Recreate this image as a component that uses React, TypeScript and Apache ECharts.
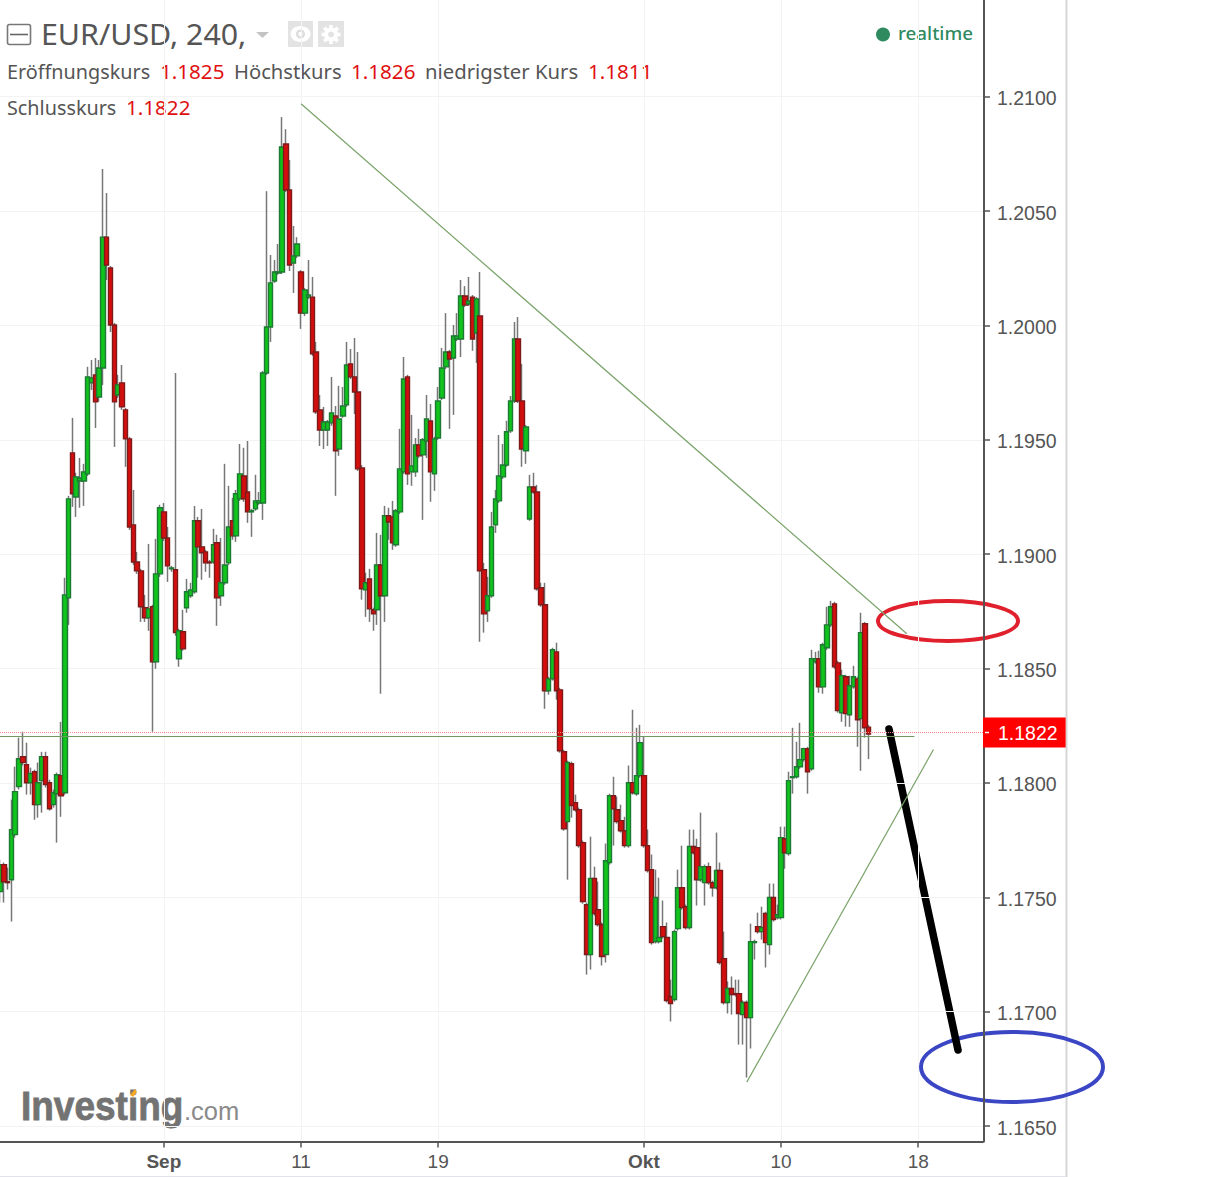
import React, { useEffect, useRef } from "react";
import * as echarts from "echarts";

const xLabels: Record<number, string> = { 43: "Sep", 79: "11", 115: "19", 169: "Okt", 205: "10", 241: "18" };
const slotCount = 259;
const categories = Array.from({ length: slotCount }, (_, i) => String(i));
const priceTicks = [1.165, 1.17, 1.175, 1.18, 1.185, 1.19, 1.195, 1.2, 1.205, 1.21];
const lastPrice = 1.1822;
const readingOffset = -0.00006;

const direction =
  "UDDUUUDDUD" + "UUDDUUDUUD" + "UUUUUDUUDD" + "DUDDDDDDDU" + "DUUDDUDUDU" + "UUDDDDUDUU" + "UDUUDDUUUU" + "UUUUUDDUUD" +
  "UUDDDUUUDU" + "UUDDDDUDDU" + "DUDDUUUDUU" + "DUUDUUUUDU" + "UUDUDUDDUU" + "UUUUUUDDUU" + "DDDDUUDDDU" + "DDDDDUDDDU" +
  "UDDDDUDUUD" + "DDUUDDDUUD" + "DUDDUUDDUD" + "DUDDDUDUUD" + "UDUDUUDUUU" + "UUDUUDUUUD" + "DUDUUDUDD";

const bodyTop = [
  1.17649,1.17649,1.17574,1.17802,1.17968,1.18112,1.18121,1.18086,1.18047,1.18055,
  1.18007,1.18121,1.18121,1.18007,1.17963,1.18042,1.18038,1.18828,1.19248,1.19449,
  1.19344,1.19339,1.19366,1.19781,1.19777,1.19790,1.19820,1.20392,1.20392,1.20257,
  1.20008,1.19746,1.19755,1.19637,1.19510,1.19134,1.18972,1.18933,1.18772,1.18767,
  1.18776,1.18920,1.19209,1.19191,1.19077,1.18946,1.18938,1.18671,1.18667,1.18842,
  1.18850,1.19152,1.19152,1.19038,1.19016,1.18972,1.19047,1.19056,1.18881,1.18959,
  1.19125,1.19152,1.19270,1.19357,1.19348,1.19278,1.19196,1.19239,1.19239,1.19798,
  1.19999,1.20192,1.20240,1.20240,1.20786,1.20799,1.20598,1.20310,1.20362,1.20240,
  1.20161,1.20139,1.20130,1.19890,1.19637,1.19584,1.19584,1.19624,1.19610,1.19597,
  1.19654,1.19833,1.19838,1.19781,1.19715,1.19383,1.18881,1.18898,1.18763,1.18959,
  1.18959,1.19174,1.19174,1.19169,1.19196,1.19379,1.19772,1.19781,1.19392,1.19484,
  1.19484,1.19506,1.19597,1.19588,1.19510,1.19676,1.19820,1.19890,1.19890,1.19960,
  1.19960,1.20135,1.20135,1.20113,1.20130,1.20122,1.20047,1.18938,1.18824,1.19125,
  1.19248,1.19348,1.19396,1.19541,1.19676,1.19947,1.19947,1.19676,1.19562,1.19300,
  1.19300,1.19278,1.18859,1.18785,1.18461,1.18588,1.18579,1.18413,1.18142,1.18095,
  1.18090,1.17920,1.17889,1.17745,1.17474,1.17588,1.17588,1.17452,1.17387,1.17666,
  1.17950,1.17950,1.17889,1.17841,1.17797,1.18007,1.18007,1.18038,1.18182,1.18038,
  1.17732,1.17627,1.17505,1.17330,1.17378,1.17330,1.17072,1.17356,1.17548,1.17548,
  1.17465,1.17728,1.17728,1.17723,1.17640,1.17640,1.17640,1.17570,1.17623,1.17623,
  1.17238,1.17107,1.17107,1.17085,1.17085,1.17046,1.17046,1.17312,1.17312,1.17378,
  1.17374,1.17435,1.17505,1.17505,1.17430,1.17767,1.17762,1.18016,1.18033,1.18077,
  1.18108,1.18156,1.18156,1.18549,1.18549,1.18549,1.18610,1.18697,1.18776,1.18789,
  1.18531,1.18475,1.18470,1.18431,1.18470,1.18461,1.18663,1.18702,1.18250,
];

const bodyBottom = [
  1.17531,1.17574,1.17570,1.17583,1.17780,1.17990,1.18095,1.18007,1.18007,1.17911,
  1.17911,1.18016,1.17999,1.17893,1.17911,1.17959,1.17950,1.17963,1.18815,1.19270,
  1.19256,1.19326,1.19326,1.19357,1.19755,1.19672,1.19693,1.19820,1.20270,1.20008,
  1.19672,1.19702,1.19650,1.19510,1.19125,1.18972,1.18933,1.18776,1.18728,1.18728,
  1.18536,1.18536,1.18920,1.19077,1.18955,1.18942,1.18663,1.18549,1.18592,1.18772,
  1.18824,1.18842,1.19038,1.19012,1.18968,1.18968,1.18972,1.18815,1.18824,1.18881,
  1.18968,1.19086,1.19086,1.19248,1.19248,1.19191,1.19191,1.19204,1.19230,1.19230,
  1.19798,1.19999,1.20200,1.20235,1.20240,1.20598,1.20270,1.20279,1.20310,1.20060,
  1.20060,1.20130,1.19882,1.19628,1.19549,1.19549,1.19549,1.19580,1.19458,1.19466,
  1.19610,1.19659,1.19781,1.19715,1.19379,1.18855,1.18850,1.18767,1.18745,1.18763,
  1.18824,1.18824,1.19147,1.19056,1.19047,1.19191,1.19366,1.19357,1.19366,1.19366,
  1.19436,1.19440,1.19501,1.19366,1.19357,1.19514,1.19689,1.19825,1.19859,1.19864,
  1.19947,1.19947,1.20095,1.20100,1.19947,1.19973,1.18933,1.18745,1.18759,1.18824,
  1.19134,1.19239,1.19344,1.19396,1.19545,1.19676,1.19676,1.19466,1.19458,1.19160,
  1.19278,1.18855,1.18785,1.18409,1.18409,1.18461,1.18409,1.18147,1.17806,1.17837,
  1.17907,1.17889,1.17732,1.17487,1.17256,1.17256,1.17435,1.17387,1.17247,1.17256,
  1.17658,1.17893,1.17837,1.17797,1.17732,1.17732,1.17963,1.17959,1.18038,1.17732,
  1.17623,1.17308,1.17312,1.17312,1.17334,1.17055,1.17042,1.17059,1.17369,1.17461,
  1.17374,1.17374,1.17701,1.17583,1.17583,1.17570,1.17570,1.17548,1.17548,1.17221,
  1.17046,1.17046,1.17081,1.17081,1.16998,1.16993,1.16980,1.16980,1.17308,1.17356,
  1.17356,1.17308,1.17299,1.17409,1.17417,1.17417,1.17701,1.17697,1.18029,1.18033,
  1.18077,1.18108,1.18055,1.18068,1.18536,1.18426,1.18426,1.18597,1.18697,1.18514,
  1.18322,1.18313,1.18309,1.18304,1.18426,1.18282,1.18287,1.18247,1.18220,
];

const highs = [
  1.17671,1.17658,1.17636,1.17933,1.18077,1.18204,1.18230,1.18182,1.18073,1.18064,
  1.18095,1.18142,1.18142,1.18020,1.17977,1.18051,1.18273,1.18903,1.19261,1.19602,
  1.19362,1.19427,1.19401,1.19825,1.19855,1.19864,1.19855,1.20690,1.20585,1.20266,
  1.20017,1.19790,1.19833,1.19645,1.19519,1.19287,1.19016,1.18942,1.18828,1.19051,
  1.18785,1.19073,1.19222,1.19230,1.19125,1.18955,1.19798,1.18680,1.18763,1.18898,
  1.18881,1.19217,1.19169,1.19204,1.19025,1.18981,1.19117,1.19091,1.19077,1.19401,
  1.19305,1.19252,1.19287,1.19488,1.19471,1.19501,1.19204,1.19353,1.19278,1.19807,
  1.20593,1.20314,1.20292,1.20362,1.20917,1.20864,1.20729,1.20441,1.20392,1.20248,
  1.20170,1.20292,1.20218,1.19934,1.19702,1.19650,1.19593,1.19781,1.19654,1.19742,
  1.19737,1.19934,1.19903,1.19951,1.19890,1.19396,1.18925,1.18942,1.18772,1.19099,
  1.19091,1.19217,1.19209,1.19239,1.19204,1.19554,1.19868,1.19790,1.19615,1.19514,
  1.19554,1.19514,1.19702,1.19663,1.19519,1.19737,1.19908,1.20060,1.19899,1.20008,
  1.20060,1.20205,1.20178,1.20218,1.20139,1.20130,1.20240,1.18968,1.18907,1.19191,
  1.19287,1.19527,1.19488,1.19589,1.19698,1.20021,1.20043,1.19838,1.19571,1.19353,
  1.19362,1.19309,1.18881,1.18881,1.18470,1.18597,1.18619,1.18422,1.18151,1.18103,
  1.18099,1.17955,1.17898,1.17754,1.17483,1.17771,1.17640,1.17574,1.17396,1.17741,
  1.17959,1.18033,1.17946,1.17911,1.17858,1.18082,1.18326,1.18247,1.18260,1.18208,
  1.17802,1.17693,1.17627,1.17592,1.17492,1.17396,1.17146,1.17365,1.17627,1.17732,
  1.17474,1.17802,1.17802,1.17762,1.17876,1.17649,1.17658,1.17579,1.17789,1.17658,
  1.17356,1.17138,1.17160,1.17146,1.17146,1.17055,1.17055,1.17391,1.17321,1.17439,
  1.17465,1.17443,1.17566,1.17566,1.17474,1.17815,1.17815,1.18055,1.18247,1.18186,
  1.18269,1.18160,1.18164,1.18588,1.18579,1.18584,1.18619,1.18776,1.18802,1.18798,
  1.18540,1.18501,1.18479,1.18475,1.18518,1.18470,1.18750,1.18710,1.18260,
];

const lows = [
  1.17483,1.17483,1.17540,1.17400,1.17767,1.17977,1.18082,1.17955,1.17955,1.17845,
  1.17854,1.17876,1.17986,1.17885,1.17898,1.17745,1.17858,1.17955,1.18697,1.19213,
  1.19169,1.19209,1.19217,1.19348,1.19724,1.19558,1.19672,1.19746,1.20205,1.19977,
  1.19475,1.19689,1.19637,1.19388,1.19112,1.18959,1.18920,1.18710,1.18710,1.18671,
  1.18230,1.18505,1.18907,1.19064,1.18885,1.18929,1.18649,1.18514,1.18584,1.18750,
  1.18815,1.18833,1.18903,1.18894,1.18929,1.18903,1.18964,1.18693,1.18780,1.18872,
  1.18959,1.19069,1.19060,1.19239,1.19235,1.19143,1.19082,1.19196,1.19222,1.19156,
  1.19790,1.19934,1.20192,1.20227,1.20231,1.20589,1.20244,1.20148,1.20301,1.19991,
  1.20047,1.20122,1.19873,1.19619,1.19479,1.19466,1.19479,1.19567,1.19261,1.19436,
  1.19602,1.19650,1.19772,1.19619,1.19370,1.18807,1.18732,1.18710,1.18671,1.18697,
  1.18396,1.18710,1.19069,1.19025,1.19038,1.19182,1.19357,1.19309,1.19305,1.19344,
  1.19427,1.19156,1.19427,1.19235,1.19283,1.19506,1.19680,1.19816,1.19554,1.19615,
  1.19938,1.19868,1.20087,1.20091,1.19895,1.19842,1.18623,1.18663,1.18710,1.18815,
  1.19099,1.19230,1.19335,1.19388,1.19536,1.19667,1.19667,1.19388,1.19401,1.19152,
  1.19270,1.18846,1.18776,1.18330,1.18392,1.18453,1.18370,1.18138,1.17797,1.17583,
  1.17854,1.17880,1.17723,1.17478,1.17168,1.17190,1.17426,1.17378,1.17208,1.17221,
  1.17649,1.17732,1.17828,1.17789,1.17723,1.17723,1.17955,1.17950,1.18029,1.17723,
  1.17614,1.17299,1.17304,1.17304,1.17326,1.17046,1.16963,1.17050,1.17360,1.17452,
  1.17365,1.17365,1.17693,1.17470,1.17574,1.17470,1.17561,1.17509,1.17540,1.17212,
  1.17037,1.16998,1.16993,1.17072,1.16862,1.16862,1.16718,1.16845,1.17234,1.17347,
  1.17321,1.17199,1.17256,1.17400,1.17409,1.17409,1.17631,1.17688,1.17959,1.18025,
  1.18068,1.18099,1.17959,1.18059,1.18527,1.18400,1.18396,1.18588,1.18688,1.18505,
  1.18313,1.18273,1.18252,1.18251,1.18418,1.18164,1.18059,1.18204,1.18110,
];

const adj = (p: number) => p + readingOffset;
const chartOpens = bodyTop.map((t, i) => adj(direction[i] === "U" ? bodyBottom[i] : t));
const chartCloses = bodyTop.map((t, i) => adj(direction[i] === "U" ? t : bodyBottom[i]));
const wickData = chartOpens.map((o, i) => [o, chartCloses[i], adj(lows[i]), adj(highs[i])]);
const bodyData = chartOpens.map((o, i) => [o, chartCloses[i], adj(bodyBottom[i]), adj(bodyTop[i])]);

const trendDown: [number, number][] = [[79, adj(1.20975)], [238, adj(1.18658)]];
const trendUp: [number, number][] = [[196, adj(1.16698)], [245, adj(1.18152)]];
const supportLevel = adj(1.18212);

const legendRow1 = [
  { t: "Eröffnungskurs", x: 7, red: false, sx: 0.99 }, { t: "1.1825", x: 160, red: true, sx: 1.03 },
  { t: "Höchstkurs", x: 234, red: false, sx: 1.01 }, { t: "1.1826", x: 351, red: true, sx: 1.03 },
  { t: "niedrigster Kurs", x: 425, red: false, sx: 1.015 }, { t: "1.1811", x: 588, red: true, sx: 1.03 },
];
const legendRow2 = [{ t: "Schlusskurs", x: 7, red: false, sx: 0.99 }, { t: "1.1822", x: 126, red: true, sx: 1.03 }];

const GREY = "#555";
const HEAD = "'Noto Sans', sans-serif";
const AX = "'Liberation Sans', Arial, sans-serif";

function headerGraphics(): any[] {
  const txt = (t: string, x: number, y: number, size: number, fill: string, font = HEAD, weight = "normal", scaleX = 1) => ({
    type: "text", x, y, scaleX, silent: true,
    style: { text: t, fill, fontFamily: font, fontSize: size, fontWeight: weight, verticalAlign: "middle", align: "left" },
  });
  const teeth = Array.from({ length: 8 }, (_, k) => ({
    type: "rect", x: 331, y: 34.5, originX: 0, originY: 0, rotation: (k * Math.PI) / 4,
    shape: { x: -1.8, y: -9.5, width: 3.6, height: 4 }, style: { fill: "#fff" }, silent: true,
  }));
  return [
    { type: "rect", shape: { x: 7.5, y: 24.5, width: 23, height: 20, r: 2 }, style: { fill: "#fff", stroke: "#777", lineWidth: 1.6 }, silent: true },
    { type: "line", shape: { x1: 10, y1: 34.5, x2: 28, y2: 34.5 }, style: { stroke: "#666", lineWidth: 1.6 }, silent: true },
    txt("EUR/USD, 240,", 41, 34, 28.5, "#555", HEAD, "normal", 1.065),
    { type: "polygon", shape: { points: [[256, 32], [269, 32], [262.5, 38]] }, style: { fill: "#c4c4c4" }, silent: true },
    { type: "rect", shape: { x: 288, y: 21, width: 25, height: 26 }, style: { fill: "#e3e3e3" }, silent: true },
    { type: "rect", shape: { x: 318, y: 21, width: 26, height: 26 }, style: { fill: "#e3e3e3" }, silent: true },
    { type: "ellipse", shape: { cx: 300.5, cy: 34, rx: 10, ry: 8 }, style: { fill: "#fff" }, silent: true },
    { type: "circle", shape: { cx: 300.5, cy: 34, r: 4.5 }, style: { fill: "#dcdcdc" }, silent: true },
    { type: "circle", shape: { cx: 300.5, cy: 34, r: 2.2 }, style: { fill: "#fff" }, silent: true },
    { type: "ring", shape: { cx: 331, cy: 34.5, r: 7, r0: 3 }, style: { fill: "#fff" }, silent: true },
    ...teeth,
    ...legendRow1.map((l) => txt(l.t, l.x, 71.5, 20, l.red ? "#e01010" : "#555", HEAD, "normal", l.sx)),
    ...legendRow2.map((l) => txt(l.t, l.x, 107.5, 20, l.red ? "#e01010" : "#555", HEAD, "normal", l.sx)),
    { type: "circle", shape: { cx: 883, cy: 34.5, r: 7 }, style: { fill: "#2f8a5f" }, silent: true },
    txt("realtime", 898, 32.5, 18.8, "#2f8a5f", HEAD, "500"),
    { type: "text", x: 21, y: 1106, scaleX: 0.925, silent: true, style: { text: "Investing", fill: "#737373", stroke: "#737373", lineWidth: 0.8, fontFamily: AX, fontSize: 40, fontWeight: "bold", verticalAlign: "middle", align: "left" } },
    txt(".com", 184, 1111, 25.5, "#8a8a8a", AX),
    { type: "polygon", shape: { points: [[130, 1095], [135, 1089], [137, 1092], [133, 1097]] }, style: { fill: "#f5a623" }, silent: true },
    { type: "line", shape: { x1: 1066.5, y1: 0, x2: 1066.5, y2: 1177 }, style: { stroke: "#d6d6d6", lineWidth: 2 }, silent: true },
    { type: "line", shape: { x1: 0, y1: 1176.5, x2: 1066, y2: 1176.5 }, style: { stroke: "#e2e2ea", lineWidth: 1 }, silent: true },
    { type: "ellipse", shape: { cx: 948, cy: 621, rx: 70, ry: 20 }, style: { fill: "none", stroke: "#e0202c", lineWidth: 4 }, silent: true },
    { type: "ellipse", shape: { cx: 1012, cy: 1067, rx: 91, ry: 35 }, style: { fill: "none", stroke: "#3a46c4", lineWidth: 4 }, silent: true },
    { type: "line", shape: { x1: 889, y1: 729, x2: 958, y2: 1050 }, style: { stroke: "#000", lineWidth: 7.5, lineCap: "round" }, silent: true },
    { type: "line", z: 100, shape: { x1: 985, y1: 732.5, x2: 989, y2: 732.5 }, style: { stroke: "#fff", lineWidth: 1.5 }, silent: true },
  ];
}

export default function App() {
  const ref = useRef<HTMLDivElement>(null);
  useEffect(() => {
    const chart = echarts.init(ref.current!, undefined, { renderer: "svg" });
    const isTick = (i: number) => xLabels[i] !== undefined;
    chart.setOption({
      animation: false,
      backgroundColor: "#fff",
      grid: { left: 0, top: 0, width: 983, height: 1141.5, containLabel: false },
      xAxis: {
        type: "category",
        data: categories,
        boundaryGap: false,
        axisLine: { show: true, lineStyle: { color: GREY, width: 2 } },
        axisTick: { show: true, length: 6, interval: (i: number) => isTick(i), lineStyle: { color: GREY, width: 1.5 } },
        axisLabel: {
          show: true,
          interval: (i: number) => isTick(i),
          margin: 10,
          color: GREY,
          fontFamily: AX,
          fontSize: 19,
          formatter: (v: string) => {
            const s = xLabels[Number(v)] ?? "";
            return s === "Sep" || s === "Okt" ? `{b|${s}}` : s;
          },
          rich: { b: { fontWeight: "bold", color: GREY, fontFamily: AX, fontSize: 19 } },
        },
        splitLine: { show: true, interval: (i: number) => isTick(i), lineStyle: { color: "#f3f3f3", width: 1 } },
      },
      yAxis: {
        type: "value",
        position: "right",
        offset: 1,
        min: 1.164324,
        max: 1.214228,
        axisLine: { show: true, lineStyle: { color: GREY, width: 2 } },
        axisTick: { show: true, length: 6, customValues: priceTicks, lineStyle: { color: GREY, width: 1.5 } },
        axisLabel: {
          customValues: priceTicks,
          margin: 13,
          color: GREY,
          fontFamily: AX,
          fontSize: 19.5,
          formatter: (v: number) => `{a|${v.toFixed(4)}}`,
          rich: { a: { color: GREY, fontFamily: AX, fontSize: 19.5, padding: [3, 0, 0, 0] } },
        },
        splitLine: { show: true, lineStyle: { color: "#f3f3f3", width: 1 } },
      },
      series: [
        {
          name: "wicks",
          type: "candlestick",
          data: wickData,
          barWidth: 1,
          clip: false,
          itemStyle: { color: "#777", color0: "#777", borderColor: "#777", borderColor0: "#777", borderColorDoji: "#777", borderWidth: 1.5 },
          z: 2,
          silent: true,
        },
        {
          name: "bodies",
          type: "candlestick",
          data: bodyData,
          barWidth: 5,
          itemStyle: { color: "#10c41c", color0: "#d60d0d", borderColor: "#1d7a34", borderColor0: "#7c1a1a", borderColorDoji: "#1d7a34", borderWidth: 1.4 },
          z: 3,
          silent: true,
          markLine: {
            silent: true,
            symbol: "none",
            animation: false,
            precision: 6,
            data: [
              [{ coord: trendDown[0], lineStyle: { color: "#7aa36a", width: 1.2, type: "solid" }, label: { show: false } }, { coord: trendDown[1] }],
              [{ coord: trendUp[0], lineStyle: { color: "#7aa36a", width: 1.2, type: "solid" }, label: { show: false } }, { coord: trendUp[1] }],
              [{ coord: [0, supportLevel], lineStyle: { color: "#6f9a5f", width: 1.2, type: "solid" }, label: { show: false } }, { coord: [240, supportLevel] }],
              {
                yAxis: lastPrice,
                lineStyle: { color: "#f08080", width: 1, type: "dotted" },
                label: {
                  show: true, position: "end", distance: 0, formatter: () => lastPrice.toFixed(4),
                  color: "#fff", backgroundColor: "#ff0000", fontFamily: AX, fontSize: 19.5, padding: [5, 8, 5, 15],
                },
              },
            ],
          },
        },
      ],
      graphic: headerGraphics(),
    });
    return () => chart.dispose();
  }, []);
  return <div ref={ref} style={{ position: "fixed", left: 0, top: 0, width: 1222, height: 1177 }} />;
}
